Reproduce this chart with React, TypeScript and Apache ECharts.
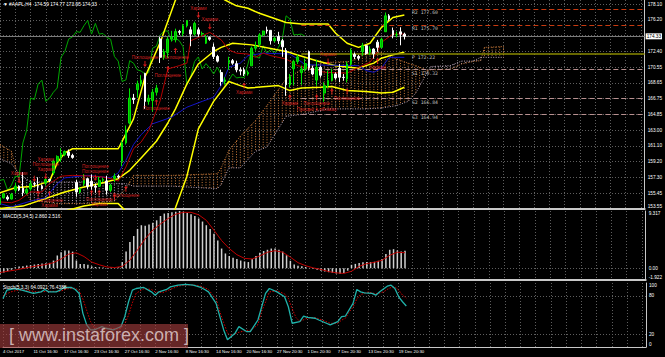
import React, { useEffect, useRef } from 'react';
import * as echarts from 'echarts';

// ---------- DATA ----------
const symbolName = '#AAPL,H4';
const timeLabels = ['4 Oct 2017', '11 Oct 16:30', '17 Oct 16:30', '23 Oct 16:30', '27 Oct 16:30', '2 Nov 16:30', '8 Nov 16:30', '14 Nov 16:30', '20 Nov 16:30', '27 Nov 20:30', '1 Dec 20:30', '7 Dec 20:30', '13 Dec 20:30', '19 Dec 20:30'];
const priceTickLabels = ['153.55', '155.45', '157.30', '159.20', '161.10', '163.00', '164.85', '166.75', '168.65', '170.55', '172.40', '', '176.20', '178.10'];
const priceMin = 153.55;
const priceMax = 178.7;
const macdMin = -1.922;
const macdMax = 9.317;

// [open, close, low, high]
const candles = [
  [154.18, 154.9, 154.05, 155.0], [154.9, 155.39, 154.8, 155.44],
  [154.97, 154.75, 154.56, 155.2], [154.75, 155.3, 154.7, 155.49],
  [155.81, 156.3, 155.49, 156.73], [156.3, 155.84, 155.7, 156.4],
  [156.06, 155.5, 155.1, 158.0], [155.5, 155.9, 155.3, 156.1],
  [155.97, 156.6, 155.75, 156.98], [156.6, 156.55, 156.3, 156.8],
  [156.35, 156.3, 155.73, 157.37], [156.3, 156.0, 155.9, 156.5],
  [156.73, 157.1, 156.41, 157.28], [157.1, 156.99, 156.8, 157.2],
  [157.9, 159.3, 157.65, 159.5], [159.3, 159.88, 159.1, 160.0],
  [159.78, 160.1, 159.23, 160.87], [160.1, 160.47, 159.9, 160.6],
  [160.42, 160.0, 159.7, 160.71], [160.0, 159.76, 159.6, 160.2],
  [156.75, 155.6, 155.02, 157.08], [155.6, 155.98, 155.4, 156.2],
  [156.61, 157.2, 156.3, 157.75], [157.2, 156.25, 155.96, 157.3],
  [156.89, 156.3, 155.9, 157.69], [156.3, 156.17, 155.5, 156.6],
  [156.29, 157.0, 156.2, 157.42], [157.0, 157.1, 156.8, 157.3],
  [156.91, 155.8, 155.27, 157.55], [155.8, 156.41, 155.6, 156.6],
  [157.23, 157.5, 156.78, 157.83], [157.5, 157.41, 157.2, 157.7],
  [159.29, 161.5, 158.7, 161.8], [161.5, 163.05, 161.3, 163.6],
  [163.89, 166.9, 163.72, 168.07], [166.9, 166.72, 166.2, 167.4],
  [167.9, 168.6, 166.94, 169.0], [168.6, 169.04, 168.3, 169.65],
  [169.87, 166.5, 165.61, 169.94], [166.5, 166.89, 166.1, 167.3],
  [166.6, 167.6, 165.28, 168.0], [167.6, 168.11, 167.2, 168.5],
  [174.0, 171.8, 171.12, 174.26], [171.8, 172.5, 171.5, 172.8],
  [172.37, 174.0, 171.72, 174.3], [174.0, 174.25, 173.7, 174.99],
  [173.91, 174.9, 173.6, 175.25], [174.9, 174.81, 174.5, 175.1],
  [174.66, 175.6, 174.33, 175.8], [175.6, 176.24, 175.4, 176.24],
  [175.11, 174.6, 173.14, 175.5], [174.6, 175.88, 174.4, 176.1],
  [175.11, 174.6, 174.27, 175.38], [174.6, 174.67, 174.4, 174.9],
  [173.5, 174.2, 173.4, 174.5], [174.2, 173.97, 173.8, 174.3],
  [173.04, 171.9, 171.6, 173.48], [171.9, 171.34, 171.18, 172.1],
  [169.97, 168.9, 168.38, 170.32], [168.9, 169.08, 168.6, 169.4],
  [171.18, 171.4, 170.3, 171.87], [171.4, 171.1, 170.9, 171.6],
  [171.04, 170.3, 170.0, 171.39], [170.3, 170.15, 169.64, 170.6],
  [170.29, 169.8, 169.56, 170.56], [169.8, 169.98, 169.6, 170.2],
  [170.78, 172.9, 170.78, 173.1], [172.9, 173.14, 172.6, 173.7],
  [173.36, 174.5, 173.05, 174.7], [174.5, 174.96, 174.3, 175.0],
  [175.1, 174.97, 174.65, 175.5],
  [175.05, 173.8, 173.34, 175.08], [173.8, 174.09, 173.6, 174.3],
  [174.3, 173.8, 173.4, 174.87], [173.8, 173.07, 171.86, 174.0],
  [172.63, 168.5, 167.16, 172.92], [168.5, 169.48, 168.2, 169.8],
  [170.43, 171.3, 168.44, 171.5], [171.3, 171.85, 171.0, 172.14],
  [169.95, 170.4, 168.5, 170.8], [170.4, 171.05, 170.1, 171.67],
  [172.48, 170.5, 170.2, 172.62], [170.5, 169.8, 169.63, 170.8],
  [169.06, 170.6, 168.4, 171.52], [170.6, 169.64, 169.4, 170.8],
  [167.5, 168.4, 166.46, 168.8], [168.4, 169.01, 168.1, 170.2],
  [169.03, 169.8, 168.91, 170.44], [169.8, 169.32, 169.1, 170.0],
  [170.49, 169.4, 168.82, 171.0], [169.4, 169.37, 169.0, 169.8],
  [169.2, 171.0, 168.79, 171.3], [171.0, 172.67, 170.8, 172.89],
  [172.15, 171.9, 171.6, 172.39], [171.9, 171.7, 171.46, 172.1],
  [172.5, 173.2, 172.0, 173.54], [173.2, 172.27, 172.1, 173.3],
  [172.4, 172.8, 172.1, 173.13], [172.8, 172.22, 171.65, 172.9],
  [173.63, 173.0, 172.46, 173.9], [173.0, 173.97, 172.9, 174.17],
  [174.88, 176.8, 174.86, 177.2], [176.8, 176.42, 176.2, 177.0],
  [175.03, 174.5, 174.09, 175.39], [174.5, 174.54, 174.2, 174.9],
  [174.87, 174.59, 173.25, 175.42], [174.59, 174.33, 173.95, 174.77],
];

// Bollinger bands (index, price)
const bbUpper = [[0, 155.5], [4, 156.1], [9, 156.3], [13, 156.9], [15, 159.1], [17, 160.3], [19, 160.8], [31, 160.8], [33, 162.6], [35, 164.4], [38, 169.4], [42, 173.6], [46, 178.7], [50, 180.0], [56, 179.5], [59, 178.7], [62, 178.0], [65, 177.7], [68, 177.1], [75, 176.0], [79, 175.8], [86, 175.8], [88, 174.7], [91, 173.5], [94, 173.0], [97, 173.5], [100, 175.4], [103, 176.6], [106, 176.9]];
const bbMiddle = [[0, 153.6], [6, 153.9], [17, 155.6], [22, 156.2], [26, 156.6], [31, 157.2], [34, 158.2], [37, 159.7], [41, 161.7], [44, 163.9], [46, 165.6], [49, 168.6], [52, 171.0], [56, 172.5], [58, 173.0], [61, 173.5], [66, 173.3], [75, 172.5], [83, 171.4], [88, 170.8], [94, 170.5], [98, 171.1], [100, 171.7], [103, 172.1], [106, 172.4]];
const bbLower = [[0, 151.6], [6, 151.8], [17, 153.3], [22, 153.9], [26, 154.2], [31, 154.2], [33, 153.3], [36, 152.0], [40, 151.0], [44, 151.5], [46, 153.7], [49, 157.5], [52, 163.2], [56, 166.5], [60, 168.9], [63, 168.4], [65, 168.1], [73, 168.4], [76, 167.8], [79, 168.1], [84, 168.2], [87, 168.3], [91, 167.8], [96, 167.7], [100, 167.5], [103, 167.6], [106, 168.2]];

// Ichimoku
const tenkan = [[0, 154.4], [3, 154.3], [5, 154.6], [8, 155.6], [11, 155.6], [13, 156.6], [16, 157.5], [19, 157.6], [24, 157.5], [27, 157.4], [30, 157.1], [31, 156.9], [33, 158.6], [35, 160.8], [37, 161.6], [39, 163.0], [40, 164.2], [42, 166.6], [44, 170.4], [47, 170.8], [49, 171.1], [50, 173.8], [52, 174.2], [55, 174.8], [57, 174.2], [58, 173.9], [60, 172.7], [62, 172.3], [65, 172.2], [67, 171.8], [69, 172.3], [71, 172.0], [75, 171.6], [78, 170.8], [82, 170.4], [85, 170.0], [91, 169.9], [94, 170.6], [97, 171.2], [99, 172.5], [100, 173.6], [103, 174.6], [106, 174.6]];
const kijun = [[0, 154.2], [3, 153.8], [8, 154.5], [12, 154.9], [15, 156.6], [17, 157.3], [23, 157.6], [29, 157.3], [31, 157.9], [33, 159.4], [35, 161.3], [37, 162.5], [40, 163.8], [45, 164.6], [49, 165.8], [53, 166.5], [56, 167.0], [58, 168.4], [60, 170.6], [63, 171.1], [65, 172.0], [69, 172.3], [76, 172.2], [78, 171.6], [80, 170.9], [94, 170.8], [96, 170.2], [98, 170.0], [100, 170.5], [102, 171.8], [106, 171.8]];
// [index, senkou span A, senkou span B]
const kumo = [[0, 161.3, 159.6], [3, 160.5, 159.0], [5, 157.0, 157.8], [8, 154.6, 156.8], [15, 154.2, 156.8], [22, 154.2, 156.8], [30, 154.5, 156.6], [33, 156.0, 156.6], [35, 157.6, 156.3], [45, 157.6, 156.3], [57, 157.8, 156.0], [58, 158.5, 156.5], [60, 160.6, 158.5], [63, 162.3, 158.5], [67, 164.2, 160.5], [70, 166.0, 161.0], [75, 169.2, 164.7], [80, 170.6, 165.0], [86, 171.2, 165.6], [92, 171.3, 165.6], [96, 172.3, 165.6], [100, 172.4, 165.7], [104, 171.6, 166.0], [107, 171.1, 166.5], [109, 170.8, 167.5], [112, 170.25, 170.0], [113, 170.3, 170.7], [118, 170.35, 170.8], [121, 171.0, 171.35], [124, 171.3, 171.35], [126, 171.4, 171.8], [127, 173.0, 171.8], [132, 173.1, 171.8]];
const chikouShift = 26;

// Weekly pivots
const pivotNames = ['R2', 'R1', 'P', 'S1', 'S2', 'S3'];
const pivotValues = [177.6, 175.7, 172.22, 170.32, 166.84, 164.94];
const pivotStart = 79;
const pivotLabelAt = 108;

// Candle patterns [index, price, up?, text]
const patterns: [number, number, boolean, string][] = [
  [52, 176.9, false, 'Харами'], [55, 175.5, false, 'Харами'], [38, 171.0, false, 'Поглощение'],
  [46, 172.6, true, 'Поглощение'], [44, 170.4, true, 'Поглощение'], [41, 166.4, true, 'Поглощение'],
  [64, 168.4, true, 'Харами'], [86, 171.3, false, 'Харами'], [99, 171.4, true, 'Харами'],
  [76, 167.0, true, 'Харами'], [83, 167.0, true, 'Поглощение\nПросвет в облаках'], [87, 167.7, true, ''],
  [91, 167.7, true, 'Поглощение'],
  [5, 157.0, false, 'Харами'], [9, 157.2, false, ''], [12, 157.5, false, 'Харами\nПоглощение\nХарами'],
  [22, 157.3, false, ''], [25, 157.3, false, 'Поглощение\nПоглощение'],
  [10, 155.4, true, ''], [13, 155.4, true, 'Поглощение\nХарами'],
  [24, 155.5, true, ''], [26, 155.5, true, 'Поглощение\nХарами'],
  [30, 155.0, true, ''], [33, 156.0, true, 'Поглощение'],
];

// MACD(5,34,5)
const macdHist = [
  -0.93, -0.7, -0.45, -0.25, 0.16, 0.27, 0.3, 0.43, 0.5, 0.6,
  0.7, 0.76, 0.8, 0.87, 1.25, 2.07, 2.6, 2.9, 2.9, 2.7,
  1.25, 0.7, 0.7, 0.55, 0.3, 0.2, 0.15, 0.1, 0.05, 0.1,
  0.05, 0.15, 1.0, 2.7, 4.25, 5.25, 6.4, 7.0, 6.9, 7.1,
  7.4, 7.8, 8.5, 8.9, 9.0, 9.1, 9.2, 9.317, 9.2, 9.0,
  8.8, 8.5, 8.1, 7.6, 7.0, 6.4, 5.6, 4.5, 3.2, 2.4,
  2.0, 1.7, 1.5, 1.25, 1.1, 1.0, 1.5, 2.0, 2.5, 2.8,
  3.0, 3.2, 3.2, 3.0, 2.7, 2.1, 1.2, 0.6, 0.4, 0.3,
  0.2, 0.05, -0.1, -0.25, -0.4, -0.55, -0.65, -0.75, -0.85, -0.9,
  -0.8, -0.4, 0.55, 0.7, 0.85, 0.95, 1.0, 1.0, 1.05, 1.2,
  1.5, 2.3, 3.0, 3.1, 2.9, 2.7, 2.86,
];
const macdSignal = [[0, -0.7], [4, -0.3], [8, 0.2], [12, 0.6], [14, 0.9], [16, 1.5], [18, 2.3], [20, 2.5], [22, 1.9], [24, 1.0], [26, 0.55], [28, 0.2], [30, 0.1], [32, 0.3], [34, 1.3], [36, 3.0], [38, 4.8], [40, 6.2], [42, 7.2], [44, 8.1], [46, 8.8], [48, 9.1], [50, 9.1], [52, 8.7], [54, 7.8], [56, 6.2], [58, 4.5], [60, 3.2], [62, 2.2], [64, 1.6], [66, 1.5], [68, 2.0], [70, 2.6], [72, 2.85], [74, 2.6], [76, 1.8], [78, 0.9], [80, 0.4], [82, 0.05], [84, -0.2], [86, -0.55], [88, -0.75], [90, -0.85], [92, -0.5], [94, 0.3], [96, 0.75], [98, 0.95], [100, 1.3], [102, 2.1], [104, 2.6], [106, 2.516]];

// Stochastic(5,3,3)
const stochK = [[0, 75.9], [1, 88.8], [3, 91.4], [5, 88.8], [8, 83.7], [10, 86.2], [11, 89.9], [12, 86.2], [14, 86.2], [15, 88.8], [16, 93], [18, 93], [19, 89.9], [20, 83.7], [21, 52.6], [22, 34.5], [23, 26.7], [24, 26.7], [25, 29.3], [26, 31.8], [27, 29.3], [29, 26.7], [30, 29.3], [31, 31.8], [32, 47.4], [33, 70.7], [34, 88.8], [35, 91.4], [37, 93], [39, 86.2], [40, 81], [41, 86.2], [43, 89.9], [44, 93.9], [46, 96.6], [48, 97.7], [50, 96.6], [52, 93], [53, 89.9], [54, 86.2], [56, 68.2], [58, 26.7], [59, 11.2], [60, 16.3], [61, 21.6], [62, 31.8], [64, 24.1], [65, 24.1], [67, 42.2], [69, 83.7], [70, 91.4], [72, 86.2], [74, 78.4], [75, 62.9], [76, 37.1], [78, 39.6], [79, 48.4], [80, 46.4], [82, 44.9], [83, 42.2], [85, 37.1], [86, 34.5], [88, 39.6], [89, 47.4], [90, 48.4], [92, 68.2], [93, 89.9], [94, 86.2], [95, 84.6], [97, 83.7], [98, 81], [99, 86.2], [101, 95], [102, 96.6], [103, 91.4], [104, 78.4], [105, 70.7], [106, 64.0921]];
const stochD = [[0, 80], [2, 86], [4, 89], [6, 89], [9, 86], [12, 87], [15, 87], [17, 91], [19, 92], [20, 88], [21, 75], [22, 57], [23, 40], [24, 30], [26, 28], [28, 29], [30, 28], [31, 29], [32, 36], [33, 50], [34, 69], [35, 84], [37, 91], [39, 90], [40, 86], [42, 85], [44, 90], [46, 95], [48, 97], [50, 97], [52, 95], [54, 90], [55, 82], [56, 76], [57, 55], [58, 38], [59, 22], [60, 18], [62, 23], [64, 26], [65, 26], [66, 30], [67, 35], [68, 56], [69, 70], [70, 86], [72, 88], [74, 83], [75, 76], [76, 60], [77, 46], [78, 40], [80, 45], [82, 46], [84, 42], [86, 37], [88, 37], [89, 42], [90, 45], [91, 55], [92, 62], [93, 75], [94, 82], [96, 86], [98, 83], [100, 86], [101, 90], [102, 93], [103, 94], [104, 89], [105, 81], [106, 76.4388]];

// ---------- CHART ----------
const SLOTS = 170;
const FONT = 'Liberation Sans, Arial, sans-serif';
const GRID_COLOR = '#5e5e5e';
const FRAME = '#c8c8c8';
const TR = 'rgba(0,0,0,0)';

export default function App() {
  const ref = useRef<HTMLDivElement>(null);
  useEffect(() => {
    const chart = echarts.init(ref.current!, null, { renderer: 'svg' });
    const categories = Array.from({ length: SLOTS }, (_, i) => (i % 8 === 0 && timeLabels[i / 8]) ? timeLabels[i / 8] : '');
    const last = candles[candles.length - 1];
    const priceInterval = priceMin / 81;
    const macdInterval = -macdMin;
    const dotted = { color: GRID_COLOR, type: [1, 2] as any, width: 1 };

    const xAxisBase = (gi: number, labels: boolean) => ({
      type: 'category', gridIndex: gi, data: categories, boundaryGap: false,
      axisLine: { show: true, onZero: false, lineStyle: { color: FRAME, width: gi === 2 ? 1 : 2 } },
      axisTick: { show: false },
      splitLine: { show: true, interval: 3, lineStyle: dotted },
      axisLabel: labels
        ? { show: true, interval: 7, align: 'left', color: '#ffffff', fontSize: 4.3, fontFamily: FONT, margin: 2 }
        : { show: false },
    });

    const segs = kumo.slice(0, -1).map((p, k) => [p[0], p[1], p[2], kumo[k + 1][0], kumo[k + 1][1], kumo[k + 1][2], k === kumo.length - 2 ? 1 : 0]);

    const downArrow = 'path://M3,0 L5,0 L5,6 L8,6 L4,10 L0,6 L3,6 Z';
    const upArrow = 'path://M4,0 L8,4 L5,4 L5,10 L3,10 L3,4 L0,4 Z';
    const patternLabel = { show: true, distance: 1, color: '#ff2a2a', fontSize: 4.6, lineHeight: 5.2, fontFamily: FONT, formatter: (p: any) => p.value[2] };

    const option: any = {
      animation: false,
      backgroundColor: '#000000',
      grid: [
        { left: 0, top: 0, width: 646, height: 209 },
        { left: 0, top: 211, width: 646, height: 69 },
        { left: 0, top: 283, width: 646, height: 64 },
      ],
      xAxis: [xAxisBase(0, false), xAxisBase(1, false), xAxisBase(2, true)],
      yAxis: [
        {
          type: 'value', gridIndex: 0, position: 'right', min: priceMin, max: priceMax, interval: priceInterval,
          axisLine: { show: true, lineStyle: { color: FRAME } }, axisTick: { show: false },
          splitLine: { show: true, showMaxLine: false, lineStyle: dotted },
          axisLabel: {
            color: '#ffffff', fontSize: 4.7, fontFamily: FONT, margin: 3, showMaxLabel: false,
            verticalAlignMinLabel: 'bottom',
            formatter: (v: number) => priceTickLabels[Math.round((v - priceMin) / priceInterval)] ?? '',
          },
        },
        {
          type: 'value', gridIndex: 1, position: 'right', min: macdMin, max: macdMax, interval: macdInterval,
          axisLine: { show: true, lineStyle: { color: FRAME } }, axisTick: { show: false },
          splitLine: { show: true, lineStyle: { color: [TR, GRID_COLOR, TR, TR, TR, TR, TR], type: [1, 2] } },
          axisLabel: {
            color: '#ffffff', fontSize: 4.7, fontFamily: FONT, margin: 3,
            verticalAlignMinLabel: 'bottom', verticalAlignMaxLabel: 'top',
            formatter: (v: number) => (Math.abs(v) < 1e-6 ? '0.00'
              : (Math.abs(v - macdMin) < 1e-6 || Math.abs(v - macdMax) < 1e-6) ? v.toFixed(3) : ''),
          },
        },
        {
          type: 'value', gridIndex: 2, position: 'right', min: 0, max: 100, interval: 20,
          axisLine: { show: true, lineStyle: { color: FRAME } }, axisTick: { show: false },
          splitLine: { show: true, lineStyle: { color: [TR, GRID_COLOR, TR, TR, GRID_COLOR, TR], type: [1, 2] } },
          axisLabel: {
            color: '#ffffff', fontSize: 4.7, fontFamily: FONT, margin: 3,
            verticalAlignMinLabel: 'bottom', verticalAlignMaxLabel: 'top',
            formatter: (v: number) => (v === 40 || v === 60 ? '' : String(v)),
          },
        },
      ],
      series: [
        {
          type: 'custom', name: 'kumo', xAxisIndex: 0, yAxisIndex: 0, z: 1, silent: true, clip: true,
          data: segs, encode: { x: [0, 3], y: [1, 2, 4, 5] },
          renderItem: (_p: any, api: any) => {
            const i0 = api.value(0), i1 = api.value(3), isLast = api.value(6);
            const a0 = api.coord([i0, api.value(1)]), b0 = api.coord([i0, api.value(2)]);
            const a1 = api.coord([i1, api.value(4)]), b1 = api.coord([i1, api.value(5)]);
            const children: any[] = [];
            const end = isLast ? i1 : i1 - 1;
            for (let i = i0; i <= end; i++) {
              const x = api.coord([i, api.value(1)])[0];
              const t = a1[0] === a0[0] ? 0 : (x - a0[0]) / (a1[0] - a0[0]);
              const ya = a0[1] + (a1[1] - a0[1]) * t;
              const yb = b0[1] + (b1[1] - b0[1]) * t;
              children.push({
                type: 'line', shape: { x1: x, y1: ya, x2: x, y2: yb },
                style: { stroke: ya <= yb ? '#c97a3a' : '#b8a4b8', lineWidth: 1, lineDash: [1, 1.6] },
              });
            }
            return { type: 'group', children };
          },
        },
        { type: 'line', name: 'spanA', data: kumo.map((p) => [p[0], p[1]]), symbol: 'none', z: 2, lineStyle: { color: '#c97a3a', width: 1, type: [1, 1.5] } },
        { type: 'line', name: 'spanB', data: kumo.map((p) => [p[0], p[2]]), symbol: 'none', z: 2, lineStyle: { color: '#b8a4b8', width: 1, type: [1, 1.5] } },
        {
          type: 'line', name: 'chikou', data: candles.slice(chikouShift).map((c, k) => [k, c[1]]),
          symbol: 'none', z: 3, lineStyle: { color: '#00a800', width: 1 },
        },
        { type: 'line', name: 'bbUpper', data: bbUpper, symbol: 'none', z: 4, lineStyle: { color: '#ffff00', width: 1.5 } },
        { type: 'line', name: 'bbMiddle', data: bbMiddle, symbol: 'none', z: 4, lineStyle: { color: '#ffff00', width: 1.5 } },
        { type: 'line', name: 'bbLower', data: bbLower, symbol: 'none', z: 4, lineStyle: { color: '#ffff00', width: 1.5 } },
        { type: 'line', name: 'kijun', data: kijun, symbol: 'none', z: 5, lineStyle: { color: '#1414c8', width: 1 } },
        { type: 'line', name: 'tenkan', data: tenkan, symbol: 'none', z: 5, lineStyle: { color: '#b40000', width: 1 } },
        {
          type: 'candlestick', name: 'price', data: candles, barWidth: 2.2, z: 6,
          itemStyle: { color: '#00b000', color0: '#ffffff', borderColor: '#00e600', borderColor0: '#ffffff', borderWidth: 1 },
          markLine: {
            silent: true, symbol: 'none', animation: false,
            data: [
              ...pivotValues.map((v, k) => [
                {
                  coord: [pivotStart, v],
                  lineStyle: pivotNames[k] === 'P'
                    ? { color: '#8a8a00', width: 1.5, type: 'solid' }
                    : pivotNames[k].startsWith('R')
                      ? { color: '#c83a10', width: 1, type: [5, 3] }
                      : { color: '#b89090', width: 1, type: [5, 3] },
                  label: { show: false },
                },
                { coord: [SLOTS - 1, v] },
              ]),
              [
                {
                  coord: [0, last[1]], lineStyle: { color: '#7a7a7a', width: 1, type: 'solid' },
                  label: {
                    show: true, position: 'end', distance: 1, formatter: last[1].toFixed(2), color: '#000000',
                    backgroundColor: '#ffffff', fontSize: 4.7, fontFamily: FONT, padding: [0.5, 1],
                  },
                },
                { coord: [SLOTS - 1, last[1]] },
              ],
            ],
          },
        },
        {
          type: 'scatter', name: 'pivotLabels', z: 7, silent: true, symbolSize: 0,
          data: pivotValues.map((v, k) => [pivotLabelAt, v, `${pivotNames[k]} ${v.toFixed(2)}`]),
          label: {
            show: true, position: [0, 1], align: 'left', verticalAlign: 'top', color: '#e8e8e8',
            fontSize: 4.8, fontFamily: 'DejaVu Sans Mono, monospace', formatter: (p: any) => p.value[2],
          },
        },
        {
          type: 'scatter', name: 'patternsDown', z: 8, silent: true, symbol: downArrow, symbolSize: [4, 6],
          itemStyle: { color: '#ff1e1e' },
          data: patterns.filter((p) => !p[2]).map((p) => [p[0], p[1], p[3]]),
          label: { ...patternLabel, position: 'top' },
        },
        {
          type: 'scatter', name: 'patternsUp', z: 8, silent: true, symbol: upArrow, symbolSize: [4, 6],
          itemStyle: { color: '#ff1e1e' },
          data: patterns.filter((p) => p[2]).map((p) => [p[0], p[1], p[3]]),
          label: { ...patternLabel, position: 'bottom' },
        },
        {
          type: 'bar', name: 'macd', xAxisIndex: 1, yAxisIndex: 1, data: macdHist, barWidth: 1.5,
          itemStyle: { color: '#cfcfcf' }, z: 3,
        },
        {
          type: 'line', name: 'signal', xAxisIndex: 1, yAxisIndex: 1, data: macdSignal, symbol: 'none', z: 4,
          lineStyle: { color: '#c00000', width: 1 },
        },
        {
          type: 'line', name: 'stochK', xAxisIndex: 2, yAxisIndex: 2, data: stochK, symbol: 'none', z: 4,
          lineStyle: { color: '#20b2aa', width: 1.3 },
        },
        {
          type: 'line', name: 'stochD', xAxisIndex: 2, yAxisIndex: 2, data: stochD, symbol: 'none', z: 3,
          lineStyle: { color: '#d40000', width: 1, type: [1.5, 1.5] },
        },
      ],
      graphic: [
        {
          type: 'text', left: 3, top: 2, z: 50,
          style: {
            text: `▼ ${symbolName}  ${last[0].toFixed(2)} ${last[3].toFixed(2)} ${last[2].toFixed(2)} ${last[1].toFixed(2)}`,
            fill: '#ffffff', fontSize: 4.8, fontFamily: FONT,
          },
        },
        {
          type: 'text', left: 3, top: 214, z: 50,
          style: { text: `MACD(5,34,5) ${macdHist[macdHist.length - 1].toFixed(3)} ${macdSignal[macdSignal.length - 1][1].toFixed(3)}`, fill: '#ffffff', fontSize: 4.8, fontFamily: FONT },
        },
        {
          type: 'text', left: 3, top: 285, z: 50,
          style: { text: `Stoch(5,3,3) ${stochK[stochK.length - 1][1].toFixed(4)} ${stochD[stochD.length - 1][1].toFixed(4)}`, fill: '#ffffff', fontSize: 4.8, fontFamily: FONT },
        },
        {
          type: 'rect', left: 0, top: 324, z: 90, silent: true,
          shape: { width: 188, height: 24 },
          style: { fill: 'rgba(165,62,62,0.62)' },
        },
        {
          type: 'text', left: 9, top: 326, z: 91, silent: true,
          style: { text: '[ www.instaforex.com ]', fill: 'rgba(230,215,215,0.78)', fontSize: 18, fontFamily: FONT },
        },
      ],
    };
    chart.setOption(option);
    return () => chart.dispose();
  }, []);
  return <div ref={ref} style={{ position: 'absolute', left: 0, top: 0, width: 665, height: 357, background: '#000' }} />;
}
